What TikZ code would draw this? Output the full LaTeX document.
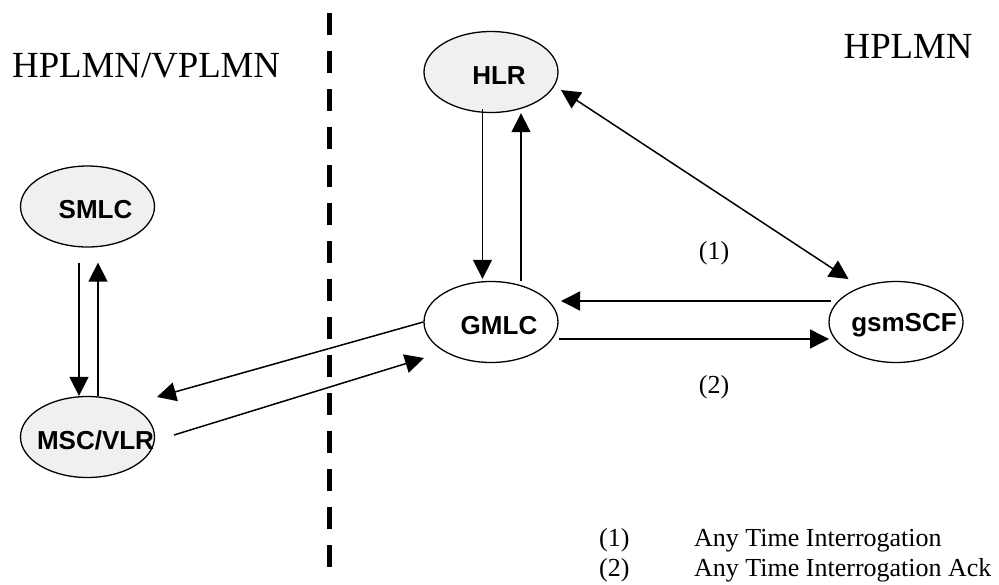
\documentclass[tikz,border=0pt]{standalone}
\usepackage{fontspec}
\setmainfont{Liberation Serif}
\setsansfont{Liberation Sans}
\usetikzlibrary{arrows.meta,shapes.geometric}

\tikzset{
  entity/.style={ellipse, draw, line width=1.3pt, minimum width=134pt,
    minimum height=81pt, inner sep=0pt},
  shaded/.style={entity, fill=black!6},
  tag/.style={font=\sffamily\bfseries\fontsize{26}{30}\selectfont,
    xshift=8pt, yshift=-3.5pt, inner sep=0pt},
  msg/.style={-{Triangle[length=19pt,width=19pt]}, line width=1.5pt},
  twoway/.style={{Triangle[length=19pt,width=19pt]}-{Triangle[length=19pt,width=19pt]}, line width=1.5pt},
  plmn/.style={font=\fontsize{36.8}{44}\selectfont, anchor=base west, inner sep=0pt},
  note/.style={font=\fontsize{26}{31}\selectfont, inner sep=0pt}
}

\begin{document}
\begin{tikzpicture}[x=1pt, y=-1pt]
  \useasboundingbox (0,0) rectangle (999,584);

  % network border
  \draw[line width=5pt, dash pattern=on 21.7pt off 16.3pt] (329,13) -- (329,567);
  \node[plmn] (vplmn) at (12,77) {HPLMN/VPLMN};
  \node[plmn] (hplmn) at (843.5,58) {HPLMN};

  % entities
  \node[shaded] (smlc) at (87.5,206.5) {};
  \node[shaded] (msc) at (87.5,437) {};
  \node[shaded] (hlr) at (491,72) {};
  \node[entity] (gmlc) at (491,322) {};
  \node[entity] (scf) at (896,322) {};
  \node[tag] (smlc-t) at (smlc) {SMLC};
  \node[tag] (msc-t) at (msc) {MSC/VLR};
  \node[tag] (hlr-t) at (hlr) {HLR};
  \node[tag] (gmlc-t) at (gmlc) {GMLC};
  \node[tag] (scf-t) at (scf) {gsmSCF};

  % messages
  \draw[msg] ([xshift=-8.5pt,yshift=-15pt]smlc.south) -- ([xshift=-8.5pt]msc.north);
  \draw[msg] ([xshift=10.5pt]msc.north) -- ([xshift=10.5pt,yshift=-15pt]smlc.south);
  \draw[msg] ([xshift=-8.5pt,yshift=4pt]hlr.south) -- ([xshift=-8.5pt,yshift=2pt]gmlc.north);
  \draw[msg] ([xshift=30pt]gmlc.north) -- ([xshift=30pt]hlr.south);
  \draw[twoway] ([shift={(70pt,-18pt)}]hlr.center) -- ([shift={(-47.5pt,43pt)}]scf.center);
  \draw[msg] ([shift={(-65pt,21pt)}]scf.center) -- ([shift={(70pt,21pt)}]gmlc.center);
  \draw[msg] ([shift={(68pt,-17pt)}]gmlc.center) -- ([shift={(-67pt,-17pt)}]scf.center);
  \draw[msg] (gmlc.west) -- ([shift={(69.5pt,40pt)}]msc.center);
  \draw[msg] ([shift={(86.5pt,2pt)}]msc.center) -- ([shift={(-67pt,-36pt)}]gmlc.center);

  \node[note, anchor=base] (ati) at (714,259) {(1)};
  \node[note, anchor=base] (atiack) at (714,393) {(2)};

  % key
  \node[note, anchor=base west] (key1) at (599,546) {(1)};
  \node[note, anchor=base west] (key1-t) at (694,546) {Any Time Interrogation};
  \node[note, anchor=base west] (key2) at (599,576) {(2)};
  \node[note, anchor=base west] (key2-t) at (694,576) {Any Time Interrogation Ack};
\end{tikzpicture}
\end{document}
